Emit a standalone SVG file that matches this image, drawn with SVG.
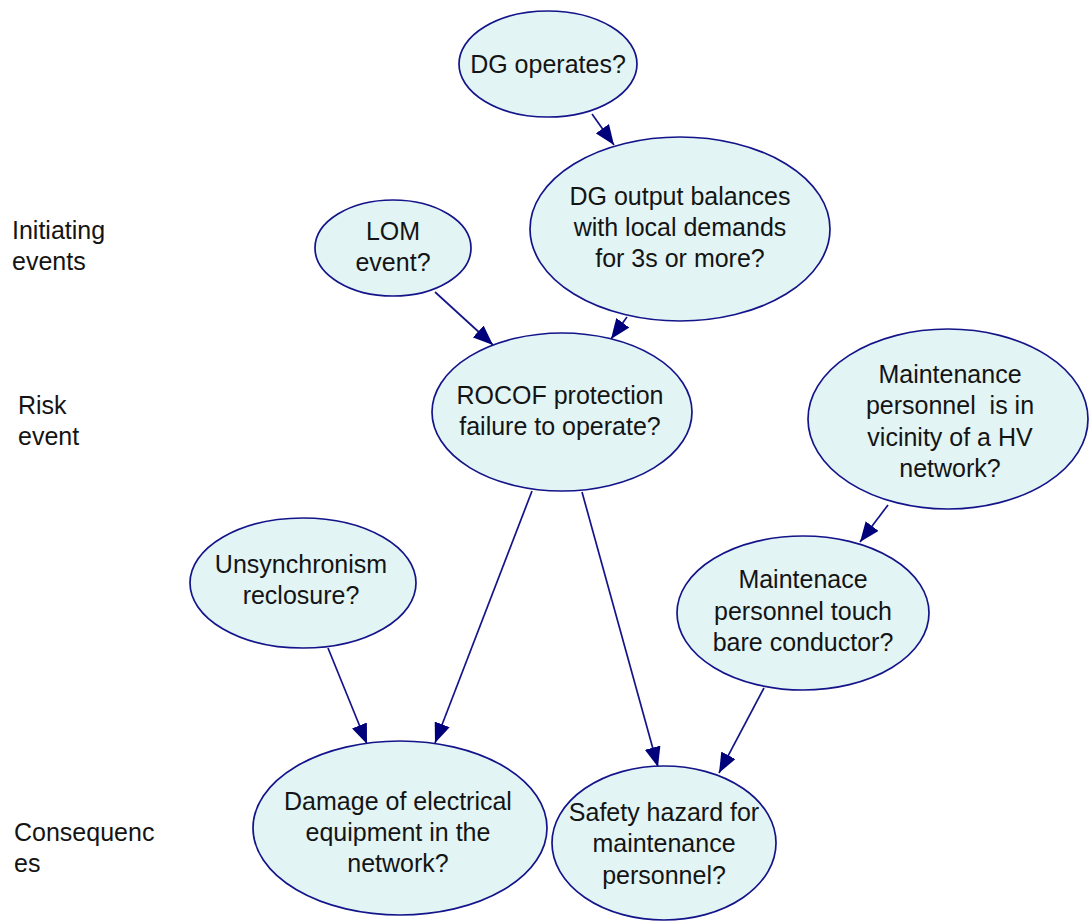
<svg xmlns="http://www.w3.org/2000/svg" width="1090" height="922" viewBox="0 0 1090 922">
  <defs>
    <marker id="arrow" viewBox="0 0 20 16" refX="20" refY="8" markerWidth="20" markerHeight="16" markerUnits="userSpaceOnUse" orient="auto">
      <path d="M0,0 L20,8 L0,16 z" fill="#00007a"/>
    </marker>
    <style>
      .node ellipse { fill: #e2f4f4; stroke: #14148a; stroke-width: 1.7; }
      .node text, .label { font-family: "Liberation Sans", Arial, sans-serif; font-size: 25px; fill: #141414; white-space: pre; }
      .node text { text-anchor: middle; }
      .edge { stroke: #14148a; stroke-width: 1.7; fill: none; marker-end: url(#arrow); }
    </style>
  </defs>
  <rect width="1090" height="922" fill="#ffffff"/>

  <!-- stage labels -->
  <g id="stage-labels">
    <text class="label" x="12" y="239">Initiating</text>
    <text class="label" x="12" y="270">events</text>
    <text class="label" x="18" y="414">Risk</text>
    <text class="label" x="18" y="445">event</text>
    <text class="label" x="14" y="841">Consequenc</text>
    <text class="label" x="14" y="872">es</text>
  </g>

  <!-- connectors -->
  <g id="connectors">
    <line class="edge" x1="592" y1="114" x2="614" y2="145"/>
    <line class="edge" x1="627" y1="317" x2="611" y2="339"/>
    <line class="edge" x1="435" y1="292" x2="493" y2="345"/>
    <line class="edge" x1="532" y1="491" x2="435" y2="743"/>
    <line class="edge" x1="582" y1="492" x2="658" y2="767"/>
    <line class="edge" x1="328" y1="648" x2="367" y2="744"/>
    <line class="edge" x1="888" y1="505" x2="860" y2="542"/>
    <line class="edge" x1="764" y1="688" x2="719" y2="773"/>
  </g>

  <!-- nodes -->
  <g id="dg-operates" class="node">
    <ellipse cx="548" cy="64" rx="89" ry="53"/>
    <text x="548" y="73">DG operates?</text>
  </g>
  <g id="dg-balance" class="node">
    <ellipse cx="680" cy="229" rx="150" ry="92"/>
    <text x="680" y="205">DG output balances</text>
    <text x="680" y="236">with local demands</text>
    <text x="680" y="267">for 3s or more?</text>
  </g>
  <g id="lom-event" class="node">
    <ellipse cx="393" cy="248" rx="78" ry="48"/>
    <text x="393" y="240">LOM</text>
    <text x="393" y="271">event?</text>
  </g>
  <g id="rocof-failure" class="node">
    <ellipse cx="562" cy="412" rx="130" ry="79"/>
    <text x="560" y="404">ROCOF protection</text>
    <text x="560" y="435">failure to operate?</text>
  </g>
  <g id="personnel-vicinity" class="node">
    <ellipse cx="948" cy="419" rx="140" ry="90"/>
    <text x="950" y="383">Maintenance</text>
    <text x="950" y="414">personnel  is in</text>
    <text x="950" y="446">vicinity of a HV</text>
    <text x="950" y="477">network?</text>
  </g>
  <g id="unsync-reclosure" class="node">
    <ellipse cx="303" cy="583" rx="113" ry="65"/>
    <text x="301" y="573">Unsynchronism</text>
    <text x="301" y="604">reclosure?</text>
  </g>
  <g id="personnel-touch" class="node">
    <ellipse cx="803" cy="613" rx="126" ry="77"/>
    <text x="803" y="588">Maintenace</text>
    <text x="803" y="620">personnel touch</text>
    <text x="803" y="651">bare conductor?</text>
  </g>
  <g id="equipment-damage" class="node">
    <ellipse cx="400" cy="828" rx="147" ry="87"/>
    <text x="398" y="810">Damage of electrical</text>
    <text x="398" y="841">equipment in the</text>
    <text x="398" y="872">network?</text>
  </g>
  <g id="safety-hazard" class="node">
    <ellipse cx="664" cy="843" rx="112" ry="77"/>
    <text x="664" y="821">Safety hazard for</text>
    <text x="664" y="852">maintenance</text>
    <text x="664" y="884">personnel?</text>
  </g>
</svg>
